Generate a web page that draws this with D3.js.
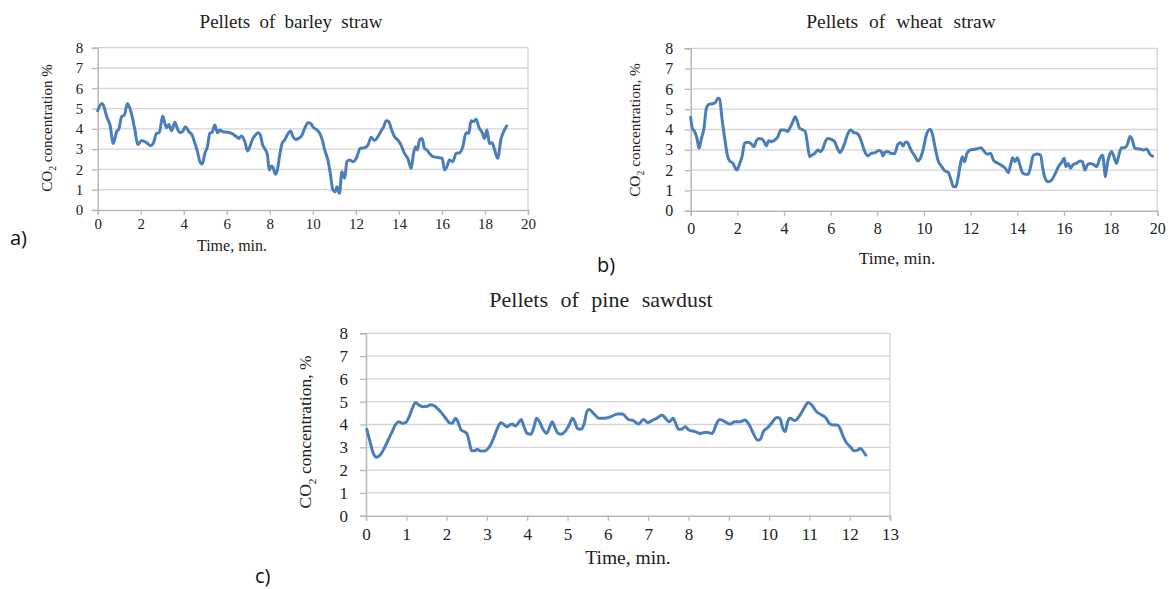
<!DOCTYPE html>
<html><head><meta charset="utf-8">
<script src="https://cdn.jsdelivr.net/npm/d3@7"></script>
<style>body{margin:0;background:#fff}svg{display:block}</style>
</head><body>
<svg id="c" width="1170" height="589"></svg>
<script>
// ---- data ----
const barleyTime = [0,0.19,0.26,0.42,0.57,0.73,0.88,0.99,1.11,1.24,1.38,1.5,1.62,1.73,1.86,2.04,2.27,2.46,2.58,2.74,2.86,3.02,3.12,3.2,3.31,3.43,3.59,3.71,3.82,3.94,4.08,4.24,4.39,4.52,4.64,4.75,4.86,4.98,5.1,5.21,5.32,5.44,5.57,5.68,5.83,6.06,6.3,6.45,6.56,6.68,6.84,6.96,7.07,7.18,7.3,7.46,7.56,7.66,7.8,7.89,7.97,8.08,8.15,8.26,8.35,8.46,8.57,8.69,8.85,8.96,9.08,9.2,9.34,9.5,9.62,9.78,9.9,10.0,10.16,10.32,10.44,10.55,10.7,10.81,10.93,11.04,11.12,11.24,11.35,11.48,11.58,11.71,11.86,12.02,12.2,12.4,12.56,12.71,12.87,13.02,13.18,13.29,13.41,13.53,13.64,13.8,13.95,14.1,14.26,14.41,14.57,14.68,14.77,14.85,14.96,15.08,15.19,15.3,15.42,15.58,15.81,16.01,16.12,16.23,16.35,16.5,16.66,16.81,16.97,17.12,17.25,17.35,17.46,17.59,17.71,17.87,17.98,18.09,18.21,18.33,18.45,18.59,18.75,18.87,19.01];
const barleyCO2 = [4.89,5.25,5.17,4.6,4.19,3.28,3.86,4.02,4.6,4.68,5.25,5.0,4.52,3.94,3.23,3.42,3.32,3.17,3.28,3.78,3.81,4.63,4.27,4.06,4.22,3.91,4.32,3.99,3.81,3.86,4.1,3.86,3.69,3.28,2.87,2.38,2.27,2.79,3.12,3.78,3.83,4.19,3.81,3.94,3.86,3.83,3.73,3.61,3.53,3.65,3.37,2.91,3.12,3.45,3.65,3.81,3.69,3.23,2.96,2.71,1.97,2.17,2.1,1.76,1.97,2.71,3.28,3.45,3.78,3.89,3.61,3.48,3.53,3.69,4.02,4.3,4.27,4.1,3.97,3.78,3.45,2.96,2.46,1.81,0.99,0.9,1.15,0.82,1.89,1.56,2.38,2.46,2.38,2.55,3.04,3.07,3.2,3.58,3.42,3.61,3.91,4.1,4.4,4.35,4.02,3.61,3.45,3.2,2.79,2.55,2.05,2.79,3.12,2.96,3.45,3.53,3.04,2.96,2.79,2.63,2.59,2.55,1.97,2.13,2.46,2.38,2.79,2.82,3.12,3.81,3.78,4.4,4.35,4.47,4.1,3.81,3.53,3.94,3.28,3.32,2.96,2.55,3.53,3.86,4.15];

const wheatTime = [0,0.07,0.17,0.27,0.36,0.46,0.57,0.67,0.78,0.93,1.06,1.17,1.24,1.34,1.46,1.57,1.67,1.81,1.88,1.98,2.1,2.2,2.31,2.43,2.57,2.71,2.81,2.93,3.06,3.14,3.24,3.34,3.46,3.6,3.74,3.86,4.03,4.14,4.28,4.38,4.48,4.57,4.67,4.81,4.91,4.99,5.1,5.2,5.31,5.46,5.57,5.67,5.77,5.88,6.03,6.17,6.29,6.39,6.48,6.6,6.74,6.86,6.98,7.13,7.24,7.34,7.46,7.6,7.74,7.91,8.06,8.17,8.24,8.34,8.46,8.6,8.74,8.88,9.0,9.1,9.2,9.29,9.38,9.48,9.6,9.74,9.84,9.96,10.1,10.26,10.37,10.47,10.61,10.76,10.9,11.04,11.16,11.26,11.36,11.44,11.54,11.64,11.74,11.84,11.98,12.14,12.33,12.44,12.57,12.69,12.86,12.97,13.11,13.26,13.4,13.51,13.61,13.71,13.8,13.9,14.0,14.11,14.21,14.33,14.47,14.57,14.68,14.83,15.0,15.08,15.18,15.32,15.47,15.61,15.76,15.9,16.01,16.08,16.18,16.28,16.4,16.54,16.69,16.79,16.9,17.0,17.11,17.26,17.4,17.54,17.66,17.71,17.77,17.85,17.94,18.04,18.14,18.25,18.37,18.47,18.61,18.71,18.83,18.93,19.04,19.26,19.4,19.54,19.69,19.8];
const wheatCO2 = [4.6,4.06,3.9,3.56,3.07,3.56,4.06,5.04,5.24,5.27,5.34,5.54,5.5,4.55,3.56,2.74,2.45,2.33,2.17,2.0,2.33,2.66,3.32,3.37,3.32,3.15,3.43,3.56,3.53,3.4,3.19,3.45,3.4,3.48,3.65,3.98,3.98,3.9,4.14,4.39,4.63,4.39,4.06,3.98,3.9,3.4,2.66,2.74,2.82,2.99,2.91,3.07,3.4,3.56,3.51,3.4,3.07,2.86,2.99,3.32,3.81,3.98,3.86,3.81,3.65,3.32,2.91,2.71,2.82,2.86,2.97,2.91,2.69,2.91,2.91,2.82,2.82,3.27,3.35,3.19,3.37,3.37,3.15,2.91,2.71,2.45,2.58,2.99,3.73,4.01,3.73,3.15,2.45,2.17,1.96,1.89,1.51,1.18,1.18,1.51,2.17,2.66,2.41,2.82,2.99,3.02,3.07,3.1,2.94,2.79,2.82,2.5,2.37,2.28,2.17,2.05,1.87,2.25,2.61,2.41,2.61,2.25,1.89,1.79,1.79,2.17,2.71,2.79,2.74,2.17,1.63,1.43,1.51,1.79,2.17,2.38,2.58,2.17,2.33,2.09,2.28,2.33,2.45,2.41,2.0,2.25,2.33,2.28,2.17,2.58,2.74,2.33,1.67,2.25,2.71,2.91,2.66,2.33,2.82,3.1,3.1,3.24,3.65,3.48,3.07,3.04,2.99,3.04,2.77,2.69];

const pineTime = [0.02,0.1,0.18,0.26,0.35,0.45,0.55,0.65,0.74,0.82,0.9,0.98,1.07,1.15,1.23,1.31,1.42,1.52,1.6,1.69,1.77,1.87,1.98,2.06,2.14,2.22,2.28,2.35,2.43,2.5,2.56,2.62,2.7,2.76,2.85,2.93,3.01,3.09,3.18,3.26,3.34,3.41,3.49,3.57,3.63,3.71,3.8,3.85,3.92,4.0,4.09,4.17,4.23,4.29,4.38,4.48,4.56,4.62,4.68,4.75,4.83,4.94,5.04,5.12,5.18,5.24,5.33,5.41,5.48,5.53,5.66,5.78,5.91,6.07,6.24,6.36,6.51,6.63,6.76,6.88,6.99,7.09,7.21,7.35,7.43,7.52,7.62,7.69,7.75,7.83,7.92,8.01,8.16,8.29,8.45,8.59,8.7,8.78,8.91,9.03,9.15,9.28,9.4,9.51,9.61,9.71,9.78,9.86,9.97,10.07,10.19,10.27,10.34,10.4,10.46,10.52,10.64,10.77,10.89,10.97,11.06,11.18,11.3,11.4,11.51,11.59,11.69,11.77,11.84,11.92,12.01,12.11,12.2,12.27,12.34,12.4];
const pineCO2 = [3.79,3.25,2.74,2.56,2.66,2.95,3.32,3.69,4.02,4.12,4.05,4.08,4.34,4.71,4.96,4.85,4.78,4.8,4.87,4.82,4.71,4.52,4.27,4.09,4.05,4.27,4.12,3.79,3.69,3.61,3.25,2.85,2.85,2.91,2.84,2.84,2.91,3.1,3.47,3.83,4.08,4.02,3.9,3.98,4.02,3.93,4.12,4.22,3.9,3.61,3.57,3.9,4.27,4.17,3.83,3.61,3.9,4.12,3.9,3.64,3.57,3.69,3.98,4.27,4.12,3.83,3.79,4.02,4.56,4.66,4.46,4.27,4.27,4.34,4.46,4.46,4.22,4.17,4.02,4.22,4.08,4.17,4.27,4.42,4.27,4.12,4.27,4.02,3.79,3.79,3.9,3.76,3.69,3.61,3.66,3.61,4.05,4.22,4.12,4.02,4.12,4.12,4.2,3.98,3.61,3.32,3.35,3.69,3.87,4.08,4.31,4.27,3.83,3.69,4.12,4.27,4.17,4.42,4.78,4.96,4.85,4.56,4.42,4.31,4.02,3.98,3.98,3.79,3.47,3.2,3.03,2.85,2.88,2.95,2.81,2.66];

const yTicks = [0,1,2,3,4,5,6,7,8];
const xTicksAB = [0,2,4,6,8,10,12,14,16,18,20];
const xTicksC = [0,1,2,3,4,5,6,7,8,9,10,11,12,13];

const charts = [
  {time: barleyTime, co2: barleyCO2, xmax: 20, xTicks: xTicksAB,
   left: 97.7, right: 528, top: 47.7, bottom: 210,
   title: "Pellets of barley straw", titleX: 291, titleY: 28, titleSize: 19, titleWS: 4.5,
   ylab: "concentration %", ylabX: 47, ylabY: 128, ylabSize: 15,
   xlabX: 232, xlabY: 251, xlabSize: 16, tickSize: 15, yTickGap: 14.5, xTickY: 228.5,
   letter: "a)", letterX: 10, letterY: 245},
  {time: wheatTime, co2: wheatCO2, xmax: 20, xTicks: xTicksAB,
   left: 690.7, right: 1157.3, top: 48.3, bottom: 210.7,
   title: "Pellets of wheat straw", titleX: 901, titleY: 28, titleSize: 19.5, titleWS: 6,
   ylab: "concentration, %", ylabX: 635, ylabY: 130, ylabSize: 15.3,
   xlabX: 897, xlabY: 264, xlabSize: 17.5, tickSize: 16, yTickGap: 17.5, xTickY: 234,
   letter: "b)", letterX: 597, letterY: 272},
  {time: pineTime, co2: pineCO2, xmax: 13, xTicks: xTicksC,
   left: 366, right: 890, top: 333.3, bottom: 515.7,
   title: "Pellets of pine sawdust", titleX: 601, titleY: 307, titleSize: 22, titleWS: 7,
   ylab: "concentration, %", ylabX: 305, ylabY: 432, ylabSize: 17.5,
   xlabX: 628, xlabY: 564, xlabSize: 19.5, tickSize: 17, yTickGap: 18, xTickY: 540,
   letter: "c)", letterX: 255, letterY: 583}
];

const svg = d3.select("#c");
const serif = "'Liberation Serif','Times New Roman',serif";
const lineColor = "#4a7ebb";

charts.forEach(c => {
  const x = d3.scaleLinear().domain([0, c.xmax]).range([c.left, c.right]);
  const y = d3.scaleLinear().domain([0, 8]).range([c.bottom, c.top]);
  const g = svg.append("g");

  // gridlines
  g.selectAll(".grid").data(yTicks.slice(1)).join("line")
    .attr("x1", c.left).attr("x2", c.right)
    .attr("y1", d => y(d)).attr("y2", d => y(d))
    .attr("stroke", "#d4d4d4").attr("stroke-width", 1.3);
  // right border
  g.append("line").attr("x1", c.right).attr("x2", c.right)
    .attr("y1", c.top).attr("y2", c.bottom).attr("stroke", "#d4d4d4").attr("stroke-width", 1.3);

  // axes
  const xAxis = d3.axisBottom(x).tickValues(c.xTicks).tickSize(5).tickFormat(d3.format("d"));
  const yAxis = d3.axisLeft(y).tickValues(yTicks).tickSize(6).tickFormat(d3.format("d"));
  const gx = g.append("g").attr("transform", `translate(0,${c.bottom})`).call(xAxis);
  const gy = g.append("g").attr("transform", `translate(${c.left},0)`).call(yAxis);
  [gx, gy].forEach(a => {
    a.select(".domain").attr("stroke", "#b8b8b8").attr("stroke-width", 1.5);
    a.selectAll(".tick line").attr("stroke", "#b8b8b8").attr("stroke-width", 1.3);
    a.selectAll("text").attr("font-family", serif).attr("font-size", c.tickSize).attr("fill", "#222");
  });
  gx.selectAll("text").attr("dy", null).attr("y", c.xTickY - c.bottom);
  gy.selectAll("text").attr("x", -c.yTickGap);

  // line
  const pts = c.time.map((t, i) => [t, c.co2[i]]);
  g.append("path").datum(pts)
    .attr("fill", "none").attr("stroke", lineColor).attr("stroke-width", 3)
    .attr("stroke-linejoin", "round").attr("stroke-linecap", "round")
    .attr("d", d3.line().x(d => x(d[0])).y(d => y(d[1])).curve(d3.curveMonotoneX));

  // title
  g.append("text").attr("x", c.titleX).attr("y", c.titleY).attr("text-anchor", "middle")
    .attr("font-family", serif).attr("font-size", c.titleSize).attr("fill", "#222")
    .attr("word-spacing", c.titleWS).text(c.title);

  // y label with subscript
  const yl = g.append("text").attr("transform", `translate(${c.ylabX},${c.ylabY}) rotate(-90)`)
    .attr("text-anchor", "middle").attr("dy", "0.35em")
    .attr("font-family", serif).attr("font-size", c.ylabSize).attr("fill", "#222");
  yl.append("tspan").text("CO");
  yl.append("tspan").attr("font-size", c.ylabSize * 0.65).attr("dy", c.ylabSize * 0.25).text("2");
  yl.append("tspan").attr("dy", -c.ylabSize * 0.25).text(" " + c.ylab);

  // x label
  g.append("text").attr("x", c.xlabX).attr("y", c.xlabY).attr("text-anchor", "middle")
    .attr("font-family", serif).attr("font-size", c.xlabSize).attr("fill", "#222").text("Time, min.");

  // panel letter
  g.append("text").attr("x", c.letterX).attr("y", c.letterY)
    .attr("font-family", "'Open Sans','Liberation Sans',sans-serif").attr("font-size", 20).attr("fill", "#111")
    .text(c.letter);
});
</script>
</body></html>
